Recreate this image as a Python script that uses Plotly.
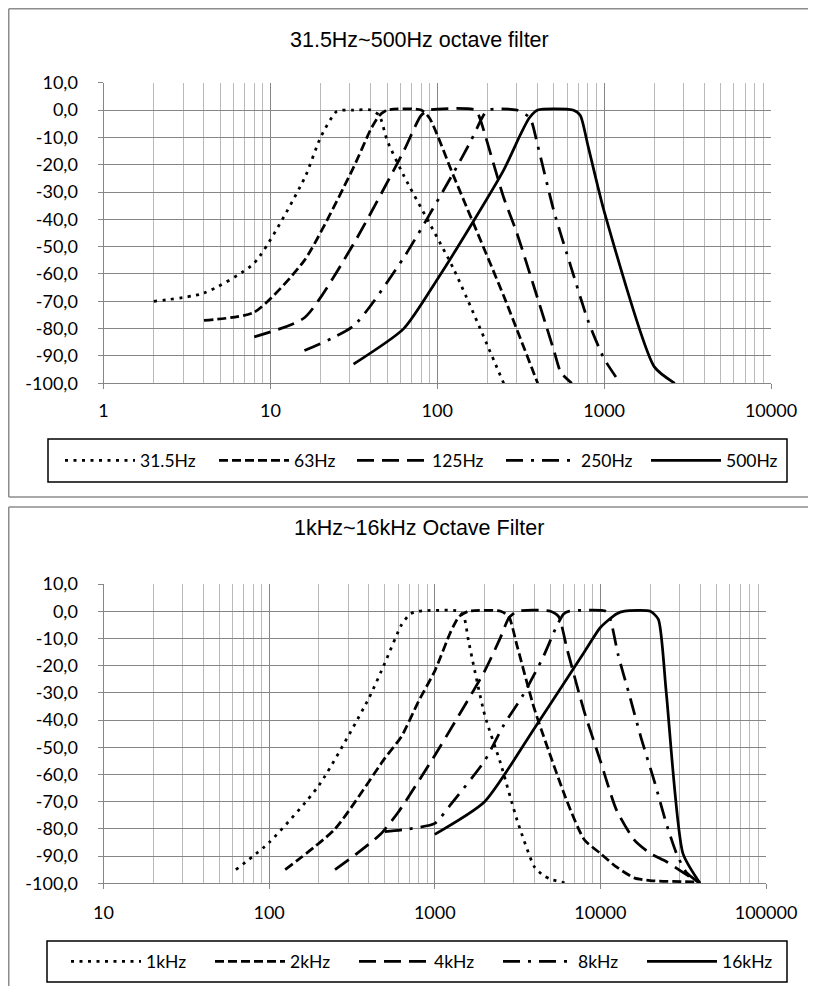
import plotly.graph_objects as go

# page body has an 8px margin, so the figure is drawn 8px in from the window edge
OFF = 8
W, H = 816 - 2 * OFF, 994 - 2 * OFF

# ---------------- data: top chart (31.5Hz ~ 500Hz) ----------------
f_315 = [2, 4, 8, 16, 20, 25, 31.5, 40, 45, 50, 63, 125, 250]
v_315 = [-70, -67, -56, -25, -10, -0.5, 0, 0, -2, -11, -24, -58, -100]

f_63 = [4, 8, 16, 31.5, 40, 45, 50, 80, 90, 125, 250, 400]
v_63 = [-77, -74, -55, -21, -7, -2, 0, 0, -3, -24, -68, -100]

f_125 = [8, 16, 31.5, 63, 80, 90, 170, 180, 250, 300, 500, 550, 640]
v_125 = [-83, -76, -49, -15, -2, 0, 0, -3, -32, -45, -88, -96, -100]

f_250 = [16, 31.5, 63, 125, 160, 185, 200, 300, 360, 400, 500, 630, 800, 1000, 1250]
v_250 = [-88, -79, -54, -23, -11, -3, 0, 0, -3, -13, -37, -57, -77, -91, -100]

f_500 = [31.5, 63, 100, 160, 250, 315, 355, 400, 650, 720, 800, 1000, 2000, 2650]
v_500 = [-93, -80, -62, -42, -22, -9, -3, 0, 0, -2, -13, -37, -94, -100]

# ---------------- data: bottom chart (1kHz ~ 16kHz) ----------------
f_1k = [63, 100, 200, 400, 500, 630, 710, 800, 1400, 1500, 1600, 2000, 2500, 3150, 4000, 4500, 5000, 6300]
v_1k = [-95, -85, -64, -32, -19, -5, -1, 0, 0, -2, -11, -38, -56, -77, -94, -97, -98.5, -100]

f_2k = [125, 250, 500, 630, 800, 1000, 1250, 1400, 1600, 2500, 2800, 3150, 4000, 6300, 8000, 10000, 12500, 16000, 20000, 40000]
v_2k = [-95, -80, -54, -46, -33, -22, -7.5, -2, 0, 0, -2, -13, -36, -70, -84, -89, -94, -98, -99, -99.5]

f_4k = [250, 340, 470, 600, 1000, 2000, 2500, 2800, 3150, 5000, 5600, 6300, 8000, 10000, 12500, 16000, 20000, 25000, 31500, 40000]
v_4k = [-95, -89, -82, -74, -53, -22, -9.5, -2.5, 0, 0, -2, -14, -37, -55, -73, -84, -89, -92, -96, -100]

f_8k = [500, 700, 1000, 1250, 2000, 2600, 3400, 4500, 5400, 6000, 6500, 10800, 11500, 12800, 15000, 17700, 21300, 25000, 28800, 33000, 40000]
v_8k = [-81, -80, -78, -71, -55, -42, -31, -17, -6, -1, 0, 0, -3, -16, -31, -47, -63, -78, -89, -96, -100]

f_16k = [1000, 2000, 4000, 8000, 10000, 12500, 14000, 20000, 22400, 25000, 31500, 40000]
v_16k = [-82, -70, -43, -15, -6, -1, 0, 0, -3, -30, -89, -100]

top_names = ["31.5Hz", "63Hz", "125Hz", "250Hz", "500Hz"]
bot_names = ["1kHz", "2kHz", "4kHz", "8kHz", "16kHz"]
top_series = [(f_315, v_315), (f_63, v_63), (f_125, v_125), (f_250, v_250), (f_500, v_500)]
bot_series = [(f_1k, v_1k), (f_2k, v_2k), (f_4k, v_4k), (f_8k, v_8k), (f_16k, v_16k)]

y_ticks = [10, 0, -10, -20, -30, -40, -50, -60, -70, -80, -90, -100]
y_ticktext = ["10,0", "0,0", "-10,0", "-20,0", "-30,0", "-40,0", "-50,0",
              "-60,0", "-70,0", "-80,0", "-90,0", "-100,0"]
top_xticks = [1, 10, 100, 1000, 10000]
bot_xticks = [10, 100, 1000, 10000, 100000]

dashes = ["3px,5.5px", "9px,4px", "17px,8px", "17px,8px,3px,8px", "solid"]
top_legw = [69, 53, 64, 60, 60]
bot_legw = [59, 59, 59, 59, 59]
LW = 2.75

fig = go.Figure()

def px_x(p):
    return (p - OFF) / W

def px_y(p):
    return 1 - (p - OFF) / H

for (f, v), name, d, lw in zip(top_series, top_names, dashes, top_legw):
    fig.add_trace(go.Scatter(x=f, y=v, name=name, mode="lines", xaxis="x", yaxis="y",
                             legend="legend", legendwidth=lw,
                             line=dict(color="black", width=LW, dash=d, shape="spline", smoothing=0.6)))
for (f, v), name, d, lw in zip(bot_series, bot_names, dashes, bot_legw):
    fig.add_trace(go.Scatter(x=f, y=v, name=name, mode="lines", xaxis="x2", yaxis="y2",
                             legend="legend2", legendwidth=lw,
                             line=dict(color="black", width=LW, dash=d, shape="spline", smoothing=0.6)))

TICKFONT = dict(family="Lato, Open Sans, sans-serif", size=18, color="black")
MAJOR = "#868686"
MINOR = "#b9b9b9"

def minor_vals(lo, hi):
    out = []
    for e in range(lo, hi):
        for m in range(2, 10):
            out.append(m * 10 ** e)
    return out

common_x = dict(type="log", showline=True, linecolor=MAJOR, linewidth=1,
                showgrid=True, gridcolor=MAJOR, gridwidth=1,
                ticks="outside", ticklen=5, tickcolor=MAJOR, tickfont=TICKFONT,
                zeroline=False, mirror=False, automargin=False)
common_y = dict(range=[-100, 10], tickvals=y_ticks, ticktext=y_ticktext,
                showline=True, linecolor=MAJOR, linewidth=1,
                showgrid=True, gridcolor=MAJOR, gridwidth=1,
                ticks="outside", ticklen=5, tickcolor=MAJOR, tickfont=TICKFONT,
                zeroline=False, ticklabelstandoff=16, automargin=False)

LEGFONT = dict(family="Lato, Open Sans, sans-serif", size=17.5, color="black")

fig.update_layout(
    width=W, height=H, margin=dict(l=0, r=0, t=0, b=0, pad=0, autoexpand=False),
    paper_bgcolor="white", plot_bgcolor="white", showlegend=True,
    xaxis=dict(common_x, range=[0, 4], tickvals=top_xticks, ticktext=[str(t) for t in top_xticks],
               domain=[px_x(103.5), px_x(771)], anchor="y", ticklabelstandoff=6,
               minor=dict(tickvals=minor_vals(0, 4), showgrid=True, gridcolor=MINOR, gridwidth=1, ticks="")),
    yaxis=dict(common_y, domain=[px_y(383.3), px_y(82.7)], anchor="x"),
    xaxis2=dict(common_x, range=[1, 5], tickvals=bot_xticks, ticktext=[str(t) for t in bot_xticks],
                domain=[px_x(103.5), px_x(766)], anchor="y2", ticklabelstandoff=8,
                minor=dict(tickvals=minor_vals(1, 5), showgrid=True, gridcolor=MINOR, gridwidth=1, ticks="")),
    yaxis2=dict(common_y, domain=[px_y(883.3), px_y(584)], anchor="x2"),
    legend=dict(orientation="h", x=px_x(60), xanchor="left", y=px_y(460.5), yanchor="middle",
                bgcolor="rgba(0,0,0,0)", borderwidth=0, itemwidth=70,
                font=LEGFONT),
    legend2=dict(orientation="h", x=px_x(66), xanchor="left", y=px_y(961.5), yanchor="middle",
                 bgcolor="rgba(0,0,0,0)", borderwidth=0, itemwidth=70,
                 font=LEGFONT),
)

TITLEFONT = dict(family="Liberation Sans Narrow, Arial Narrow, Liberation Sans, sans-serif", size=21.5, color="black")
fig.add_annotation(text="31.5Hz~500Hz octave filter", xref="paper", yref="paper",
                   x=px_x(419), y=px_y(40), xanchor="center", yanchor="middle",
                   showarrow=False, font=TITLEFONT)
fig.add_annotation(text="1kHz~16kHz Octave Filter", xref="paper", yref="paper",
                   x=px_x(419), y=px_y(528), xanchor="center", yanchor="middle",
                   showarrow=False, font=TITLEFONT)

# chart frames: left, top and bottom edges only (right edge lies outside the picture)
FRAME = dict(color="#8c8c8c", width=1.5)
def hline(x0, x1, y):
    fig.add_shape(type="line", xref="paper", yref="paper", x0=px_x(x0), x1=px_x(x1),
                  y0=px_y(y), y1=px_y(y), line=FRAME, layer="below")
def vline(x, y0, y1):
    fig.add_shape(type="line", xref="paper", yref="paper", x0=px_x(x), x1=px_x(x),
                  y0=px_y(y0), y1=px_y(y1), line=FRAME, layer="below")

hline(8.75, 816, 8.75)
hline(8.75, 816, 497)
vline(8.75, 8.75, 497)
hline(8.75, 816, 507)
vline(8.75, 507, 994)

# legend boxes
fig.add_shape(type="rect", xref="paper", yref="paper", x0=px_x(48), x1=px_x(787), y0=px_y(482), y1=px_y(439),
              line=dict(color="black", width=1.5), fillcolor="rgba(0,0,0,0)")
fig.add_shape(type="rect", xref="paper", yref="paper", x0=px_x(47), x1=px_x(787), y0=px_y(982), y1=px_y(941),
              line=dict(color="black", width=1.5), fillcolor="rgba(0,0,0,0)")

fig.write_html("out.html")
